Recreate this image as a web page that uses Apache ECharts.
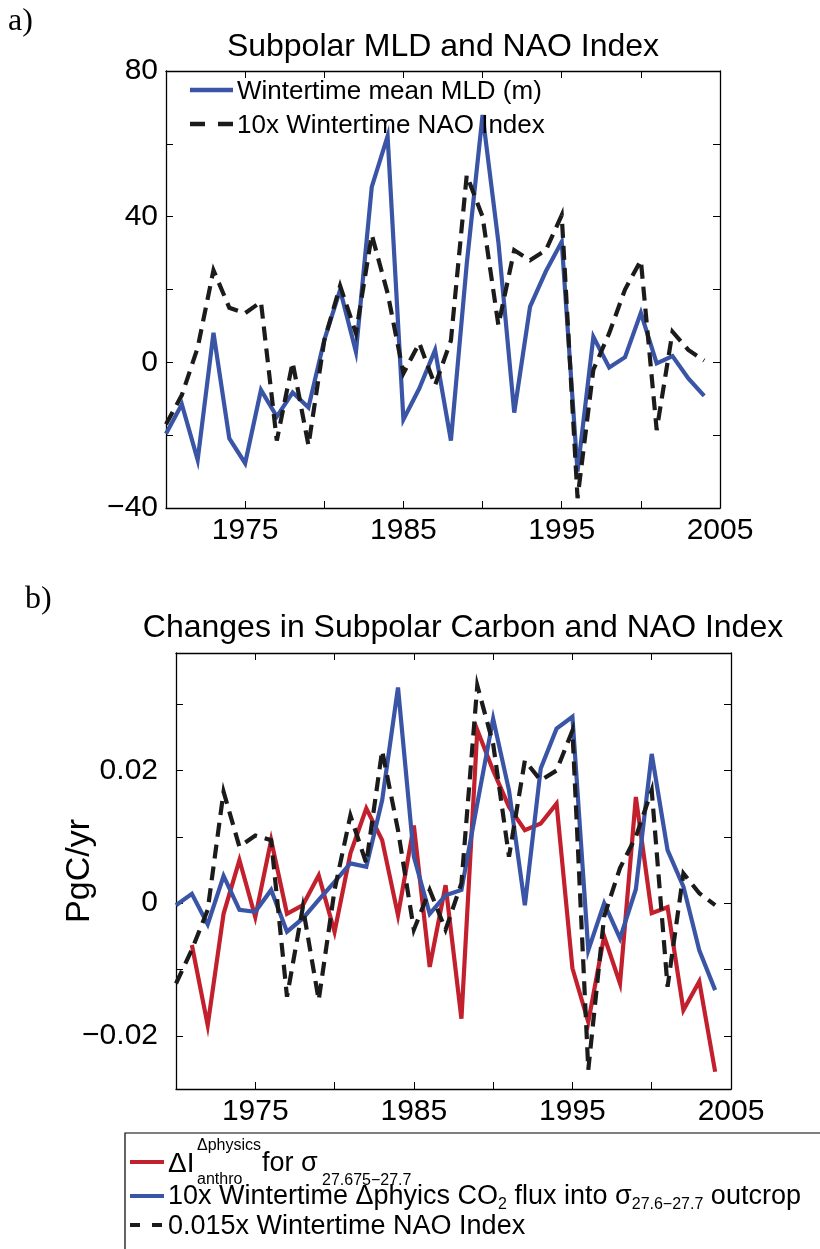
<!DOCTYPE html>
<html><head><meta charset="utf-8">
<script src="https://cdn.jsdelivr.net/npm/echarts@6/dist/echarts.min.js"></script>
<style>html,body{margin:0;padding:0;background:#fff}#c{width:820px;height:1249px}</style>
</head><body><div id="c"></div>
<script>
// ---------- data ----------
const years = [1970,1971,1972,1973,1974,1975,1976,1977,1978,1979,1980,1981,1982,1983,1984,1985,1986,1987,1988,1989,1990,1991,1992,1993,1994,1995,1996,1997,1998,1999,2000,2001,2002,2003,2004];
// panel a
const mldA = [-19.6,-11.5,-26.8,8.1,-20.9,-27.7,-7.6,-14.9,-8.3,-12.4,6.1,19.9,2.9,48.2,62.1,-15.7,-7.2,3.4,-21.5,27,67.9,33,-13.8,15.3,25,33.1,-30.0,7.0,-1.4,1.4,13.6,-0.3,1.7,-4.4,-9.2];
const naoA = [-17,-9,4,25.3,15,13.5,16.6,-21.5,0,-22.8,6,21,8,35,19,-3,5.3,-6.3,6,51.4,40,10.2,30.8,28,30.8,40.4,-37.3,-2,8,20,28,-18.6,8.4,3.4,0.5];
// panel b
const anthroB = [null,-0.0063,-0.0184,-0.0016,0.0065,-0.0021,0.0095,-0.0016,-0.0003,0.0042,-0.0043,0.0075,0.0143,0.0095,-0.0018,0.0117,-0.0096,0.0027,-0.0174,0.0261,0.0200,0.0145,0.0110,0.0120,0.0150,-0.0098,-0.0179,-0.0050,-0.0121,0.0160,-0.0015,-0.0006,-0.0161,-0.0118,-0.0254];
const fluxB = [-0.0003,0.0014,-0.0032,0.0041,-0.0010,-0.0013,0.0020,-0.0043,-0.0023,0.0005,0.0032,0.0060,0.0055,0.0155,0.0325,0.0070,-0.0016,0.0012,0.0020,0.0150,0.0278,0.0170,-0.0003,0.0203,0.0263,0.0281,-0.0071,0.0000,-0.0053,0.0021,0.0225,0.0080,0.0025,-0.0071,-0.0131];
const naoB = [-0.0121,-0.007,-0.001,0.0168,0.0085,0.0102,0.0095,-0.0141,-0.0006,-0.0146,0.002,0.0132,0.006,0.023,0.011,-0.004,0.002,-0.004,0.003,0.0328,0.024,0.007,0.0215,0.0185,0.020,0.026,-0.0251,-0.002,0.0053,0.010,0.017,-0.0126,0.0045,0.0015,-0.0003];
// tick labels
const xLabelYears = [1975,1985,1995,2005];
const yTicksB = [-0.02,-0.01,0,0.01,0.02,0.03];
const yLabelsB = [-0.02,0,0.02];

// ---------- styling ----------
const FF = '"Liberation Sans", Arial, Helvetica, sans-serif';
const SERIF = '"Liberation Serif", "Times New Roman", serif';
const BLUE = '#3a55a6', RED = '#c3202d', BLACK = '#1b1b1b';
const DASH = [14, 8];
const minus = s => String(s).replace('-', '\u2212');
const pair = arr => years.map((y, i) => [y, arr[i]]);

const axisLineStyle = {color:'#000', width:1.3};
function xAxes(grid) {
  const base = {type:'value', gridIndex:grid, min:1970, max:2005, interval:5,
    splitLine:{show:false}, axisLine:{show:true, onZero:false, lineStyle:axisLineStyle},
    axisTick:{show:true, inside:true, length:7, lineStyle:{color:'#000', width:1}}};
  return [
    Object.assign({}, base, {position:'bottom',
      axisLabel:{show:true, margin:8, fontSize:30, fontFamily:FF, color:'#000', showMinLabel:true, showMaxLabel:true,
        formatter: v => xLabelYears.includes(v) ? String(v) : ''}}),
    Object.assign({}, base, {position:'top', axisLabel:{show:false}})
  ];
}

const gridA = {left:166, top:71, width:554, height:437};
const gridB = {left:176, top:653, width:555, height:436};

const yA = {type:'value', gridIndex:0, min:-40, max:80, interval:20, splitLine:{show:false},
  axisLine:{show:true, onZero:false, lineStyle:axisLineStyle},
  axisTick:{show:true, inside:true, length:7, lineStyle:{color:'#000', width:1}}};
const yB = {type:'value', gridIndex:1, min:-0.028, max:0.0377, splitLine:{show:false},
  axisLine:{show:true, onZero:false, lineStyle:axisLineStyle},
  axisTick:{show:true, inside:true, length:7, customValues:yTicksB, lineStyle:{color:'#000', width:1}}};

const LW = 4.2;
const option = {
  animation:false,
  backgroundColor:'#fff',
  grid:[gridA, gridB],
  xAxis:[...xAxes(0), ...xAxes(1)],
  yAxis:[
    Object.assign({}, yA, {position:'left', axisLabel:{margin:8, fontSize:30, fontFamily:FF, color:'#000',
      formatter: v => (v % 40 === 0) ? minus(v) : ''}}),
    Object.assign({}, yA, {position:'right', axisLabel:{show:false}}),
    Object.assign({}, yB, {position:'left', axisLabel:{margin:18, fontSize:30, fontFamily:FF, color:'#000',
      customValues:yLabelsB, formatter: v => Math.abs(v) < 1e-9 ? '0' : minus(v.toFixed(2))}}),
    Object.assign({}, yB, {position:'right', axisLabel:{show:false}})
  ],
  series:[
    {name:'Wintertime mean MLD (m)', type:'line', xAxisIndex:0, yAxisIndex:0, data:pair(mldA), symbol:'none',
      lineStyle:{color:BLUE, width:LW, join:'miter', miterLimit:6}, itemStyle:{color:BLUE}, z:3},
    {name:'10x Wintertime NAO Index', type:'line', xAxisIndex:0, yAxisIndex:0, data:pair(naoA), symbol:'none',
      lineStyle:{color:BLACK, width:LW, type:DASH, join:'miter', miterLimit:6}, itemStyle:{color:BLACK}, z:4},
    {name:'dI anthro', type:'line', xAxisIndex:2, yAxisIndex:2, data:pair(anthroB), symbol:'none', connectNulls:false,
      lineStyle:{color:RED, width:LW, join:'miter', miterLimit:6}, itemStyle:{color:RED}, z:3},
    {name:'CO2 flux', type:'line', xAxisIndex:2, yAxisIndex:2, data:pair(fluxB), symbol:'none',
      lineStyle:{color:BLUE, width:LW, join:'miter', miterLimit:6}, itemStyle:{color:BLUE}, z:4},
    {name:'NAO b', type:'line', xAxisIndex:2, yAxisIndex:2, data:pair(naoB), symbol:'none',
      lineStyle:{color:BLACK, width:LW, type:DASH, join:'miter', miterLimit:6}, itemStyle:{color:BLACK}, z:5}
  ],
  graphic:[
    {type:'text', x:8, y:22, style:{text:'a)', font:'32px '+SERIF, fill:'#000', verticalAlign:'middle'}},
    {type:'text', x:443, y:47, style:{text:'Subpolar MLD and NAO Index', font:'32px '+FF, fill:'#000', align:'center', verticalAlign:'middle'}},
    {type:'text', x:25, y:600, style:{text:'b)', font:'32px '+SERIF, fill:'#000', verticalAlign:'middle'}},
    {type:'text', x:463, y:628, style:{text:'Changes in Subpolar Carbon and NAO Index', font:'32px '+FF, fill:'#000', align:'center', verticalAlign:'middle'}},
    {type:'text', x:80, y:871, rotation:Math.PI/2, style:{text:'PgC/yr', font:'34px '+FF, fill:'#000', align:'center', verticalAlign:'middle'}},
    // legend a
    {type:'line', shape:{x1:190, y1:90, x2:233, y2:90}, style:{stroke:BLUE, lineWidth:4.5}, z:11},
    {type:'text', x:237, y:92, z:11, style:{text:'Wintertime mean MLD (m)', font:'26px '+FF, fill:'#000', verticalAlign:'middle'}},
    {type:'line', shape:{x1:190, y1:124, x2:233, y2:124}, style:{stroke:BLACK, lineWidth:4.5, lineDash:[15,13]}, z:11},
    {type:'text', x:237, y:126, z:11, style:{text:'10x Wintertime NAO Index', font:'26px '+FF, fill:'#000', verticalAlign:'middle'}},
    // legend box b
    {type:'rect', shape:{x:125, y:1133, width:720, height:140}, style:{fill:'#fff', stroke:'#000', lineWidth:1.2}, z:10},
    {type:'line', shape:{x1:130, y1:1162, x2:164, y2:1162}, style:{stroke:RED, lineWidth:4}, z:11},
    {type:'line', shape:{x1:130, y1:1196, x2:164, y2:1196}, style:{stroke:BLUE, lineWidth:4}, z:11},
    {type:'line', shape:{x1:130, y1:1225, x2:164, y2:1225}, style:{stroke:BLACK, lineWidth:4, lineDash:[10,12]}, z:11},
    {type:'text', x:168, y:1164, z:11, style:{text:'\u0394I', font:'28px '+FF, fill:'#000', verticalAlign:'middle'}},
    {type:'text', x:197, y:1146, z:11, style:{text:'\u0394physics', font:'16px '+FF, fill:'#000', verticalAlign:'middle'}},
    {type:'text', x:197, y:1180, z:11, style:{text:'anthro', font:'16px '+FF, fill:'#000', verticalAlign:'middle'}},
    {type:'text', x:262, y:1164, z:11, style:{text:'for \u03c3', font:'27px '+FF, fill:'#000', verticalAlign:'middle'}},
    {type:'text', x:322, y:1181, z:11, style:{text:'27.675\u221227.7', font:'16px '+FF, fill:'#000', verticalAlign:'middle'}},
    {type:'text', x:168, y:1197, z:11, style:{
      text:'{a|10x Wintertime \u0394phyics CO}{s|2}{a| flux into \u03c3}{s|27.6\u221227.7}{a| outcrop}',
      verticalAlign:'middle',
      rich:{a:{font:'27px '+FF, fill:'#000', verticalAlign:'middle'}, s:{font:'16px '+FF, fill:'#000', verticalAlign:'bottom', padding:[15,0,0,0]}}}},
    {type:'text', x:168, y:1227, z:11, style:{text:'0.015x Wintertime NAO Index', font:'27px '+FF, fill:'#000', verticalAlign:'middle'}}
  ]
};
const chart = echarts.init(document.getElementById('c'), null, {renderer:'canvas'});
chart.setOption(option);
</script>
</body></html>
